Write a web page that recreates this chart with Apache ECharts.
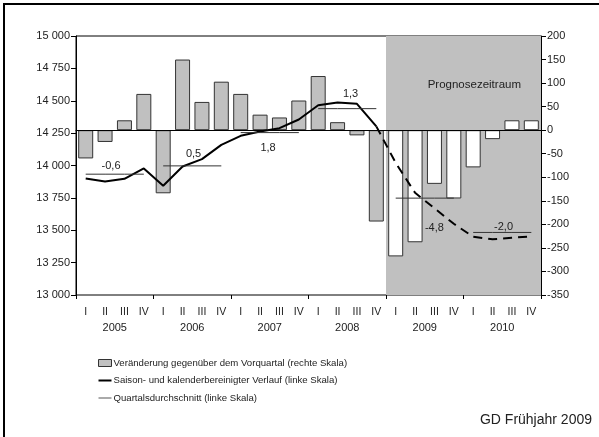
<!DOCTYPE html>
<html>
<head>
<meta charset="utf-8">
<script src="https://cdn.jsdelivr.net/npm/echarts@6/dist/echarts.min.js"></script>
<style>
  html, body { margin: 0; padding: 0; background: #fff; }
  #chart { width: 599px; height: 437px; }
</style>
</head>
<body>
<div id="chart"></div>
<script>
// quarters 2005 I .. 2010 IV
const quarters = ['I', 'II', 'III', 'IV', 'I', 'II', 'III', 'IV', 'I', 'II', 'III', 'IV',
  'I', 'II', 'III', 'IV', 'I', 'II', 'III', 'IV', 'I', 'II', 'III', 'IV']
const years = ['2005', '2006', '2007', '2008', '2009', '2010']
// Veränderung gegenüber dem Vorquartal (rechte Skala)
const changes = [-60, -25, 21, 77, -134, 150, 60, 103, 77, 33, 27, 63,
  115, 17, -11, -194, -268, -238, -114, -145, -79, -19, 21, 21]
// Saison- und kalenderbereinigter Verlauf (linke Skala)
const level = [13900, 13876, 13897, 13977, 13843, 13992, 14049, 14159, 14229, 14262, 14288, 14355,
  14465, 14486, 14476, 14302, 14020, 13789, 13670, 13550, 13450, 13430, 13442, 13453]
// Quartalsdurchschnitt je Jahr (linke Skala) und Jahresrate
const yearAvg = [13933, 13997, 14254, 14439, 13748, 13483]
const yearRate = ['-0,6', '0,5', '1,8', '1,3', '-4,8', '-2,0']
const forecastStart = 16 // 2009 I

const font = `'Liberation Sans', Arial, sans-serif`
const chart = echarts.init(document.getElementById('chart'))

const barName = 'Veränderung gegenüber dem Vorquartal (rechte Skala)'
const lineName = 'Saison- und kalenderbereinigter Verlauf (linke Skala)'
const avgName = 'Quartalsdurchschnitt (linke Skala)'

// label placement for each year's rate: [quarter in year, position, distance, x offset]
const rateLabel = [
  [1, 'top', 3, 6],
  [1, 'top', 6, 11],
  [1, 'bottom', 10, 8],
  [1, 'top', 9, 13],
  [2, 'bottom', 24, 0],
  [1, 'top', 0, 11]
]

const avgSeries = yearAvg.map((v, k) => {
  const data = quarters.map(() => null)
  for (let q = 0; q < 4; q++) {
    const item = { value: v }
    if (q === rateLabel[k][0]) {
      item.label = {
        show: true,
        formatter: yearRate[k],
        position: rateLabel[k][1],
        distance: rateLabel[k][2],
        offset: [rateLabel[k][3], 0],
        color: '#222',
        fontSize: 11,
        fontFamily: font
      }
    }
    data[k * 4 + q] = item
  }
  return {
    name: avgName,
    type: 'line',
    yAxisIndex: 0,
    z: 4,
    symbol: 'circle',
    symbolSize: 0,
    showSymbol: true,
    silent: true,
    itemStyle: { color: '#333' },
    lineStyle: { color: '#333', width: 1 },
    data: data
  }
})

const solid = level.map((v, i) => (i < forecastStart ? v : null))
const dashed = level.map((v, i) => (i >= forecastStart - 1 ? v : null))

const option = {
  animation: false,
  backgroundColor: '#fff',
  grid: {
    left: 76,
    right: 58,
    top: 36,
    bottom: 142,
    show: true,
    borderColor: '#000',
    borderWidth: 1,
    containLabel: false
  },
  legend: {
    orient: 'vertical',
    left: 98,
    top: 358,
    padding: 0,
    itemWidth: 13,
    itemHeight: 7,
    itemGap: 7.5,
    selectedMode: false,
    textStyle: { color: '#222', fontSize: 9.6, fontFamily: font, padding: [0, 0, 0, -3] },
    data: [
      { name: barName, icon: 'rect', itemStyle: { color: '#c0c0c0', borderColor: '#333', borderWidth: 1 } },
      { name: lineName, icon: 'path://M0,0H13V2H0Z', itemStyle: { color: '#000', borderWidth: 0 } },
      { name: avgName, icon: 'path://M0,0H13V1H0Z', itemStyle: { color: '#555', borderWidth: 0 } }
    ]
  },
  graphic: [
    {
      type: 'rect',
      silent: true,
      shape: { x: 4, y: 4, width: 620, height: 460 },
      style: { fill: null, stroke: '#000', lineWidth: 2 }
    },
    {
      type: 'text',
      right: 7,
      top: 413,
      style: { text: 'GD Frühjahr 2009', fill: '#222', fontSize: 14, fontFamily: font }
    }
  ],
  xAxis: [
    {
      type: 'category',
      data: quarters,
      position: 'bottom',
      boundaryGap: true,
      axisLine: { show: true, lineStyle: { color: '#000' } },
      axisTick: { show: false },
      axisLabel: { interval: 0, margin: 12, color: '#222', fontSize: 10.5, fontFamily: font }
    },
    {
      type: 'category',
      data: years,
      position: 'bottom',
      boundaryGap: true,
      axisLine: { show: false },
      axisTick: { show: true, length: 4, inside: false, lineStyle: { color: '#000' } },
      axisLabel: { interval: 0, margin: 27, color: '#222', fontSize: 11, fontFamily: font }
    },
    {
      type: 'value',
      min: 0,
      max: quarters.length,
      show: false
    }
  ],
  yAxis: [
    {
      type: 'value',
      min: 13000,
      max: 15000,
      interval: 250,
      axisLine: { show: true, lineStyle: { color: '#000' } },
      axisTick: { show: true, length: 5, lineStyle: { color: '#000' } },
      splitLine: { show: false },
      axisLabel: {
        margin: 6,
        color: '#222',
        fontSize: 11,
        fontFamily: font,
        formatter: v => String(v).replace(/\B(?=(\d{3})+(?!\d))/g, ' ')
      }
    },
    {
      type: 'value',
      min: -350,
      max: 200,
      interval: 50,
      position: 'right',
      axisLine: { show: true, lineStyle: { color: '#000' } },
      axisTick: { show: true, length: 5, lineStyle: { color: '#000' } },
      splitLine: { show: false },
      axisLabel: { margin: 6, color: '#222', fontSize: 11, fontFamily: font }
    }
  ],
  series: [
    {
      name: 'Prognose',
      type: 'line',
      xAxisIndex: 2,
      yAxisIndex: 1,
      z: 0,
      silent: true,
      symbol: 'none',
      lineStyle: { opacity: 0 },
      data: [[0, 0], [quarters.length, 0]],
      markArea: {
        silent: true,
        itemStyle: { color: '#c0c0c0' },
        label: {
          show: true,
          position: 'insideTopRight',
          offset: [-15, 38],
          color: '#222',
          fontSize: 11.5,
          fontFamily: font
        },
        data: [[{ name: 'Prognosezeitraum', xAxis: forecastStart }, { xAxis: quarters.length }]]
      }
    },
    {
      name: barName,
      type: 'bar',
      yAxisIndex: 1,
      z: 2,
      barWidth: 15,
      itemStyle: { color: '#c0c0c0', borderColor: '#333', borderWidth: 1 },
      data: changes.map((v, i) => (i >= forecastStart
        ? { value: v, itemStyle: { color: '#fff', borderColor: '#333', borderWidth: 1 } }
        : v)),
      markLine: {
        silent: true,
        symbol: 'none',
        label: { show: false },
        lineStyle: { color: '#000', width: 1, type: 'solid' },
        data: [{ yAxis: 0 }]
      }
    },
    {
      name: lineName,
      type: 'line',
      yAxisIndex: 0,
      z: 3,
      symbol: 'none',
      lineStyle: { color: '#000', width: 2 },
      data: solid
    },
    {
      name: 'Prognoseverlauf',
      type: 'line',
      yAxisIndex: 0,
      z: 3,
      symbol: 'none',
      lineStyle: { color: '#000', width: 2, type: [9, 6] },
      data: dashed
    }
  ].concat(avgSeries)
}

chart.setOption(option)
</script>
</body>
</html>
